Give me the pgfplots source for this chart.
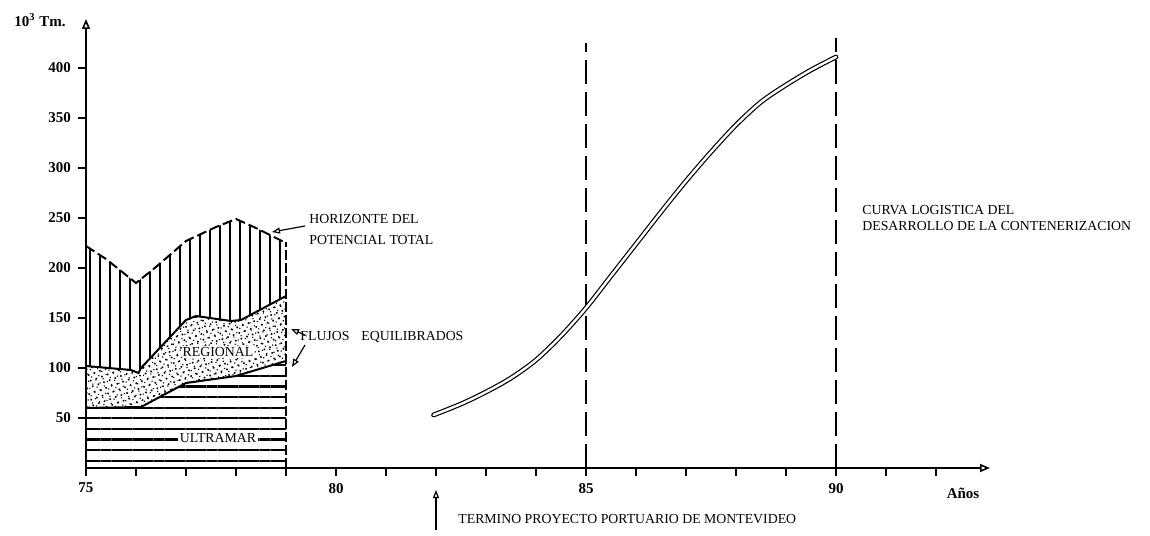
\documentclass[border=0pt]{standalone}
\usepackage{fontspec}
\setmainfont{Liberation Serif}
\usepackage{pgfplots}
\pgfplotsset{compat=1.18}
\usepgfplotslibrary{fillbetween}
\usetikzlibrary{patterns.meta,arrows.meta}

\begin{document}
\begin{tikzpicture}
\begin{axis}[
  at={(0,0)}, anchor=south west,
  x=25pt, y=0.5pt,
  xmin=75, xmax=93.08, ymin=0, ymax=449,
  axis lines=left,
  axis line style={line width=0.8pt, -{Triangle[open,length=5pt,width=4pt]}},
  xtick={75,80,85,90},
  minor xtick={76,77,78,79,81,82,83,84,86,87,88,89,91,92},
  ytick={50,100,...,400},
  tick align=outside,
  major tick length=4pt, minor tick length=4pt,
  every tick/.style={line width=0.7pt, black},
  tick label style={font=\fontsize{7.5}{8}\selectfont\bfseries},
  /pgf/number format/assume math mode=true,
  clip=false,
]
% boundaries of the stacked areas (75-79)
\addplot[name path=base, draw=none] coordinates {(75,0) (79,0)};
\addplot[name path=U, draw=none] coordinates {(75,60) (76.1,61) (77,85) (78,92) (79,107)};
\addplot[name path=R, draw=none] coordinates {(75,102) (75.9,98) (76.05,95) (76.1,100) (77,148) (77.2,152) (77.9,147) (78.1,148) (79,172)};
\addplot[name path=H, draw=none] coordinates {(75,222) (75.4,209) (75.8,193) (76,185) (76.4,201) (77,227) (77.6,241) (78,249) (78.4,240) (79,225)};

\addplot[pattern={Lines[angle=0,distance=5.3pt,line width=1.1pt]}, draw=none] fill between[of=base and U];
\addplot[pattern={Dots[distance=3pt,radius=0.55pt,angle=20]}, draw=none] fill between[of=U and R];
\addplot[pattern={Dots[distance=2.6pt,radius=0.4pt,angle=-35]}, draw=none] fill between[of=U and R];
\addplot[pattern={Lines[angle=90,distance=5pt,line width=0.9pt]}, draw=none] fill between[of=R and H];

\addplot[black, line width=1pt] coordinates {(75,60) (76.1,61) (77,85) (78,92) (79,107)};
\addplot[black, line width=1pt] coordinates {(75,102) (75.9,98) (76.05,95) (76.1,100) (77,148) (77.2,152) (77.9,147) (78.1,148) (79,172)};
\addplot[black, line width=1pt, dash pattern=on 5pt off 2pt] coordinates {(75,222) (75.4,209) (75.8,193) (76,185) (76.4,201) (77,227) (77.6,241) (78,249) (78.4,240) (79,225)};
\addplot[black, line width=1pt, dash pattern=on 5pt off 1.5pt] coordinates {(79,0) (79,226)};

% dashed verticals
\addplot[black, line width=0.8pt, dash pattern=on 12pt off 4pt] coordinates {(85,0) (85,425)};
\addplot[black, line width=0.8pt, dash pattern=on 12pt off 4pt] coordinates {(90,0) (90,430)};

% logistic curve
\addplot[smooth, black, line width=0.6pt, double=white, double distance=1.2pt, line cap=round] coordinates {
(81.95,53) (82.5,64) (83,76) (83.5,90) (84,108) (84.5,132) (85,160) (85.5,192) (86,224) (86.5,256) (87,287) (87.5,316) (88,343) (88.5,366) (89,383) (89.5,398) (90,411)};

% labels
\node[font=\fontsize{6.9}{8}\selectfont, fill=white, inner sep=1pt] at (axis cs:77.64,30) {ULTRAMAR};
\node[font=\fontsize{6.9}{8}\selectfont, fill=white, inner sep=0.5pt] at (axis cs:77.64,116) {REGIONAL};
\node[font=\fontsize{6.9}{10.5}\selectfont, align=left, anchor=west, inner sep=0pt] at (axis cs:79.46,238.5) {HORIZONTE DEL\\POTENCIAL TOTAL};
\draw[-{Triangle[open,length=4pt,width=3pt]}, line width=0.6pt] (axis cs:79.38,242) -- (axis cs:78.72,236);
\node[font=\fontsize{6.9}{8}\selectfont, anchor=west, inner sep=0pt] at (axis cs:79.28,131) {FLUJOS\hspace{6pt}EQUILIBRADOS};
\draw[-{Triangle[open,length=4pt,width=3pt]}, line width=0.6pt] (axis cs:79.38,133) -- (axis cs:79.1,139);
\draw[-{Triangle[open,length=4pt,width=3pt]}, line width=0.6pt] (axis cs:79.38,123) -- (axis cs:79.12,101);
\node[font=\fontsize{6.9}{8}\selectfont, align=left, anchor=west, inner sep=0pt] at (axis cs:90.52,250) {CURVA LOGISTICA DEL\\DESARROLLO DE LA CONTENERIZACION};
\node[font=\fontsize{6.9}{8}\selectfont, anchor=west, inner sep=0pt] at (axis cs:82.44,-51) {TERMINO PROYECTO PORTUARIO DE MONTEVIDEO};
\draw[-{Triangle[open,length=4pt,width=3pt]}, line width=0.6pt] (axis cs:82,-62) -- (axis cs:82,-22);
\node[font=\fontsize{7.5}{8}\selectfont\bfseries] at (axis cs:92.54,-25) {Años};
\node[font=\fontsize{7.5}{8}\selectfont\bfseries] at (axis cs:74.08,448) {10\textsuperscript{3}\ Tm.};
\end{axis}
\path (-43pt,-33.5pt) rectangle (532pt,234pt);
\end{tikzpicture}
\end{document}
